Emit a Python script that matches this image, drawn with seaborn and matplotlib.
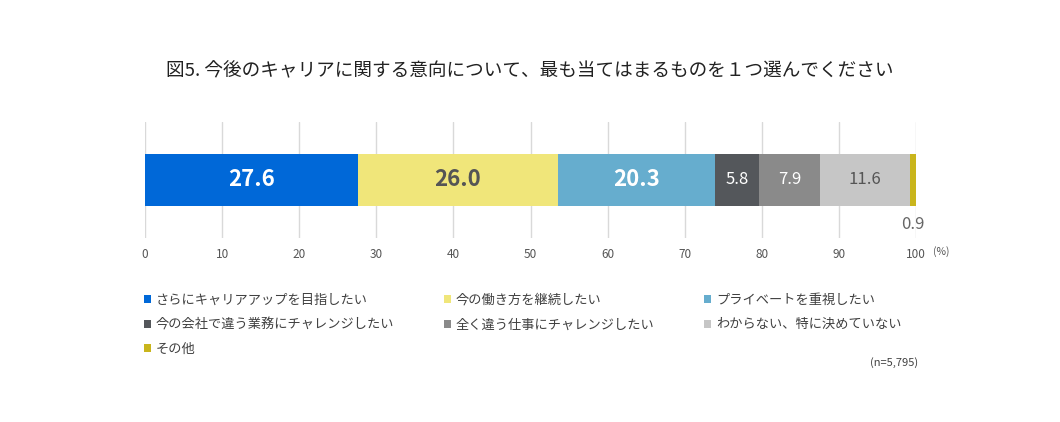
import matplotlib
matplotlib.use("Agg")
import matplotlib.pyplot as plt
import matplotlib.transforms as mtransforms
from matplotlib.patches import Patch
import seaborn as sns
import numpy as np

categories = ["さらにキャリアアップを目指したい", "今の働き方を継続したい", "プライベートを重視したい",
              "今の会社で違う業務にチャレンジしたい", "全く違う仕事にチャレンジしたい",
              "わからない、特に決めていない", "その他"]
values = [27.6, 26.0, 20.3, 5.8, 7.9, 11.6, 0.9]
colors = ["#0068D8", "#F0E67A", "#66ADCE", "#54575B", "#8A8A8A", "#C6C6C6", "#C9B51C"]
label_colors = ["white", "#555555", "white", "white", "white", "#555555", "#666666"]
label_bold = [True, True, True, False, False, False, False]
ticks = list(range(0, 101, 10))
title = "図5. 今後のキャリアに関する意向について、最も当てはまるものを１つ選んでください"
note = "(n=5,795)"

sns.set_style("white")
plt.rcParams["font.family"] = ["Noto Sans CJK JP", "DejaVu Sans"]

fig = plt.figure(figsize=(10.6, 4.22), dpi=100)
ax = fig.add_axes([145 / 1060, 1 - 238 / 422, 771 / 1060, 116 / 422])

cum = np.cumsum(values)
# layered cumulative bars, biggest first
for i in reversed(range(len(values))):
    sns.barplot(x=[cum[i]], y=["全体"], color=colors[i], orient="h", width=0.45,
                saturation=1, linewidth=0, ax=ax, zorder=3)

for i, v in enumerate(values):
    weight = "bold" if label_bold[i] else "normal"
    size = 16 if label_bold[i] else 12
    if v < 2:
        ax.text(cum[i] - v / 2, 0.38, f"{v:.1f}", ha="center", va="center",
                color=label_colors[i], fontsize=12, zorder=4)
    else:
        ax.text(cum[i] - v / 2, 0.0, f"{v:.1f}", ha="center", va="center",
                color=label_colors[i], fontsize=size, fontweight=weight, zorder=4)

ax.set_xlim(0, 100)
ax.set_ylim(0.5, -0.5)
ax.set_xticks(ticks)
ax.set_xticklabels([str(t) for t in ticks], fontsize=8.5, color="#555555")
ax.tick_params(axis="x", length=0, pad=7)
ax.set_yticks([])
ax.set_xlabel("")
ax.set_ylabel("")
ax.grid(axis="x", color="#D9D9D9", linewidth=1, zorder=0)
for s in ax.spines.values():
    s.set_visible(False)
trans = mtransforms.blended_transform_factory(ax.transData, fig.transFigure)
ax.text(102.2, 1 - 252 / 422, "(%)", transform=trans, fontsize=7.5, color="#555555",
        va="center", ha="left")

fig.text(0.5, 1 - 71 / 422, title, ha="center", va="center", fontsize=13.4, color="#222222")

handles = [Patch(facecolor=c, edgecolor="none") for c in colors]
col_x = [144, 444, 704]
for c in range(3):
    idx = [i for i in range(len(categories)) if i % 3 == c]
    leg = fig.legend([handles[i] for i in idx], [categories[i] for i in idx],
                     loc="upper left", bbox_to_anchor=(col_x[c] / 1060, 1 - 294 / 422),
                     frameon=False, fontsize=9.5, handlelength=0.55, handleheight=0.55,
                     handletextpad=0.35, labelspacing=0.86, borderaxespad=0, borderpad=0)
    for t in leg.get_texts():
        t.set_color("#404040")

fig.text(918 / 1060, 1 - 363 / 422, note, ha="right", va="center", fontsize=8, color="#404040")

fig.savefig("out.png", dpi=100)
